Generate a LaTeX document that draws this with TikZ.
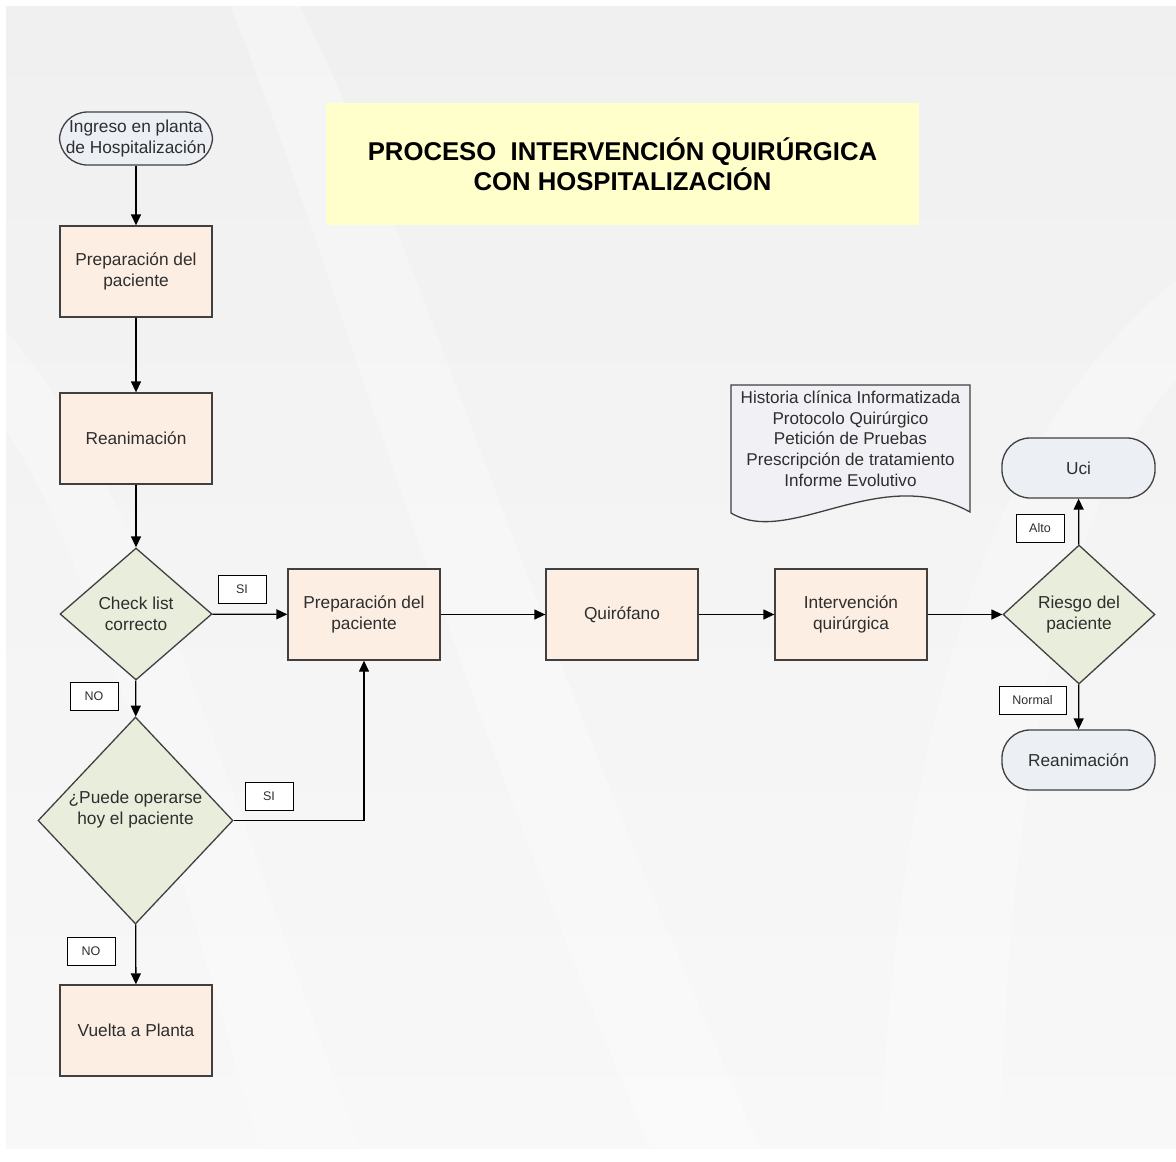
\documentclass[tikz,border=0pt]{standalone}
\usepackage{fontspec}
\setmainfont{Liberation Sans}
\usetikzlibrary{shapes.geometric,arrows.meta}
\definecolor{panelgrey}{HTML}{F0F0F0}
\definecolor{panellight}{HTML}{F8F8F8}
\definecolor{peach}{HTML}{FCEEE3}
\definecolor{termblue}{HTML}{ECF0F5}
\definecolor{sage}{HTML}{E8EDDC}
\definecolor{titleyellow}{HTML}{FFFFCC}
\definecolor{docgrey}{HTML}{F1F1F5}
\definecolor{edge}{HTML}{404040}
\definecolor{ink}{HTML}{2E2E2E}
\tikzset{
  base/.style={draw=edge, line width=1.3pt, text=ink, align=center,
    font=\fontsize{17.3}{21}\selectfont, inner sep=0pt},
  procbox/.style={base, rectangle, fill=peach, minimum width=152pt, minimum height=91pt},
  termbox/.style={base, rectangle, rounded corners=28pt, fill=termblue, minimum width=153pt},
  decision/.style={base, diamond, fill=sage},
  plaintext/.style={text=ink, align=center, font=\fontsize{17.3}{21}\selectfont, inner sep=0pt},
  tag/.style={draw=black, line width=1pt, fill=white, text=ink, minimum width=48pt,
    minimum height=28pt, inner sep=0pt, font=\fontsize{12.5}{14}\selectfont},
  flow/.style={draw=black, line width=1.3pt, -{Triangle[length=11pt,width=10pt]}}
}
\begin{document}
\begin{tikzpicture}[x=1pt, y=-1pt]
\useasboundingbox (0,0) rectangle (1176,1162);
% page background with soft light bands
\fill[white] (0,0) rectangle (1176,1162);
\shade[top color=panelgrey, bottom color=panellight] (6,6) rectangle (1176,1148);
\begin{scope}
  \clip (6,6) rectangle (1176,1148);
  \fill[white, opacity=0.3] (230,6) .. controls (330,250) and (420,600) .. (650,1148)
    -- (760,1148) .. controls (520,600) and (420,250) .. (300,6) -- cycle;
  \fill[white, opacity=0.25] (6,330) .. controls (150,500) and (230,800) .. (360,1148)
    -- (260,1148) .. controls (160,800) and (90,560) .. (6,430) -- cycle;
  \fill[white, opacity=0.25] (1176,280) .. controls (1000,420) and (900,700) .. (880,1148)
    -- (1000,1148) .. controls (1010,720) and (1080,480) .. (1176,380) -- cycle;
\end{scope}

% title banner
\node[fill=titleyellow, minimum width=593pt, minimum height=122pt, inner sep=0pt,
  align=center, font=\bfseries\fontsize{25.7}{30}\selectfont] (title) at (622.5,164)
  {PROCESO~~INTERVENCIÓN QUIRÚRGICA\\CON HOSPITALIZACIÓN};

% left column
\node[termbox, minimum height=53pt] (ingreso) at (136,138.5) {Ingreso en planta\\de Hospitalización};
\node[procbox] (prep1) at (136,271.5) {Preparación del\\paciente};
\node[procbox] (reanim1) at (136,438.5) {Reanimación};
\node[decision, minimum width=152pt, minimum height=132pt] (check) at (136,614) {Check list\\correcto};
\node[decision, minimum width=195pt, minimum height=207pt] (puede) at (135.5,820.5) {};
\node[plaintext] (puedetxt) at (135.5,810) {¿Puede operarse\\hoy el paciente};
\node[procbox] (vuelta) at (136,1030.5) {Vuelta a Planta};

% main row
\node[procbox] (prep2) at (364,614.5) {Preparación del\\paciente};
\node[procbox] (quiro) at (622,614.5) {Quirófano};
\node[procbox] (interv) at (851,614.5) {Intervención\\quirúrgica};
\node[decision, minimum width=152pt, minimum height=139pt] (riesgo) at (1079,614.5) {Riesgo del\\paciente};
\node[termbox, minimum height=60pt] (uci) at (1078.5,468) {Uci};
\node[termbox, minimum height=60pt] (reanim2) at (1078.5,760) {Reanimación};

% document with wavy lower edge
\draw[fill=docgrey, draw=edge, line width=1.3pt] (731,385) -- (970,385) -- (970,512)
  .. controls (880,462) and (790,548) .. (731,513) -- cycle;
\node[plaintext, font=\fontsize{17.1}{20.7}\selectfont] (docs) at (850.5,438.5)
  {Historia clínica Informatizada\\Protocolo Quirúrgico\\Petición de Pruebas\\Prescripción de tratamiento\\Informe Evolutivo};

% branch tags
\node[tag] (si1) at (242,589) {SI};
\node[tag] (no1) at (94,696.5) {NO};
\node[tag] (si2) at (269,796) {SI};
\node[tag] (no2) at (91,951) {NO};
\node[tag] (alto) at (1040,528.5) {Alto};
\node[tag, minimum width=67pt] (normal) at (1032.5,700) {Normal};

% connectors
\draw[flow] (ingreso) -- (prep1);
\draw[flow] (prep1) -- (reanim1);
\draw[flow] (reanim1) -- (check);
\draw[flow] (check) -- (puede);
\draw[flow] (check) -- (prep2);
\draw[flow] (puede.east) -| (prep2.south);
\draw[flow] (puede) -- (vuelta);
\draw[flow] (prep2) -- (quiro);
\draw[flow] (quiro) -- (interv);
\draw[flow] (interv) -- (riesgo);
\draw[flow] (riesgo) -- (uci);
\draw[flow] (riesgo) -- (reanim2);
\end{tikzpicture}
\end{document}
